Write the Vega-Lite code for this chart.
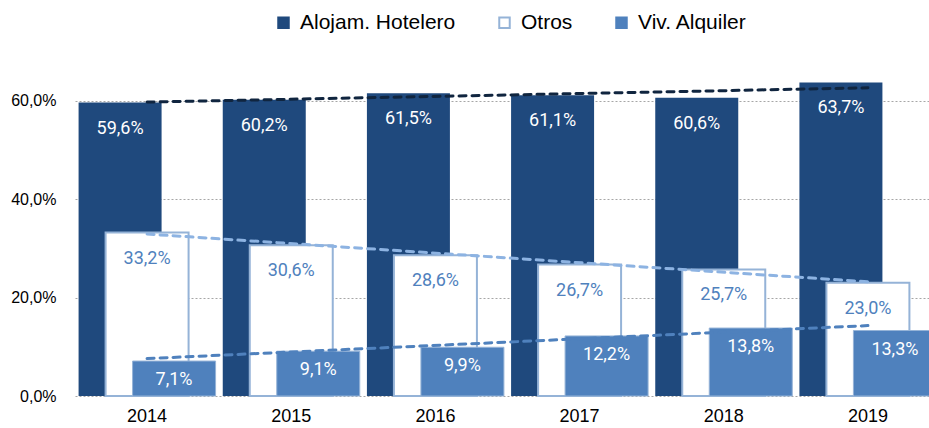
{
  "$schema": "https://vega.github.io/schema/vega-lite/v6.json",
  "width": 865,
  "height": 320,
  "autosize": {"type": "none"},
  "padding": {"left": 75, "top": 76, "right": -11, "bottom": 32},
  "config": {
    "locale": {"number": {"decimal": ",", "thousands": ".", "grouping": [3], "currency": ["", " €"]}},
    "view": {"stroke": null},
    "font": "Liberation Sans"
  },
  "datasets": {
    "bars": [
      {"year": "2014", "series": "Alojam. Hotelero", "value": 0.596},
      {"year": "2015", "series": "Alojam. Hotelero", "value": 0.602},
      {"year": "2016", "series": "Alojam. Hotelero", "value": 0.615},
      {"year": "2017", "series": "Alojam. Hotelero", "value": 0.611},
      {"year": "2018", "series": "Alojam. Hotelero", "value": 0.606},
      {"year": "2019", "series": "Alojam. Hotelero", "value": 0.637},
      {"year": "2014", "series": "Otros", "value": 0.332},
      {"year": "2015", "series": "Otros", "value": 0.306},
      {"year": "2016", "series": "Otros", "value": 0.286},
      {"year": "2017", "series": "Otros", "value": 0.267},
      {"year": "2018", "series": "Otros", "value": 0.257},
      {"year": "2019", "series": "Otros", "value": 0.230},
      {"year": "2014", "series": "Viv. Alquiler", "value": 0.071},
      {"year": "2015", "series": "Viv. Alquiler", "value": 0.091},
      {"year": "2016", "series": "Viv. Alquiler", "value": 0.099},
      {"year": "2017", "series": "Viv. Alquiler", "value": 0.122},
      {"year": "2018", "series": "Viv. Alquiler", "value": 0.138},
      {"year": "2019", "series": "Viv. Alquiler", "value": 0.133}
    ],
    "trend": [
      {"year": "2014", "series": "Alojam. Hotelero", "value": 0.597},
      {"year": "2019", "series": "Alojam. Hotelero", "value": 0.626},
      {"year": "2014", "series": "Otros", "value": 0.329},
      {"year": "2019", "series": "Otros", "value": 0.232},
      {"year": "2014", "series": "Viv. Alquiler", "value": 0.076},
      {"year": "2019", "series": "Viv. Alquiler", "value": 0.143}
    ]
  },
  "encoding": {
    "x": {
      "field": "year",
      "type": "ordinal",
      "scale": {"paddingInner": 0, "paddingOuter": 0},
      "axis": {
        "title": null,
        "labelAngle": 0,
        "domain": false,
        "ticks": false,
        "labelFont": "Liberation Sans",
        "labelFontSize": 18,
        "labelColor": "#000000",
        "labelPadding": 11
      }
    },
    "y": {
      "field": "value",
      "type": "quantitative",
      "scale": {"domain": [0, 0.65], "nice": false},
      "axis": {
        "title": null,
        "values": [0, 0.2, 0.4, 0.6],
        "format": ".1%",
        "domain": false,
        "ticks": false,
        "labelFont": "Liberation Sans",
        "labelFontSize": 16,
        "labelColor": "#000000",
        "labelPadding": 19,
        "grid": true,
        "gridColor": "#A6A6A6",
        "gridDash": [2, 2],
        "gridWidth": 1
      }
    }
  },
  "layer": [
    {
      "data": {"name": "bars"},
      "transform": [{"filter": "datum.series === 'Alojam. Hotelero'"}],
      "mark": {"type": "bar", "width": 83, "xOffset": -27, "strokeWidth": 0},
      "encoding": {
        "fill": {
          "field": "series",
          "type": "nominal",
          "scale": {"domain": ["Alojam. Hotelero", "Otros", "Viv. Alquiler"], "range": ["#1F497D", "#FFFFFF", "#4F81BD"]},
          "legend": {
            "title": null,
            "orient": "none",
            "direction": "horizontal",
            "legendX": 198,
            "legendY": -64,
            "symbolType": "square",
            "symbolSize": 110,
            "symbolStrokeWidth": 2,
            "labelFont": "Liberation Sans",
            "labelFontSize": 21,
            "labelLimit": 400,
            "labelColor": "#000000",
            "labelOffset": 6,
            "columnPadding": 38
          }
        },
        "stroke": {
          "field": "series",
          "type": "nominal",
          "scale": {"domain": ["Alojam. Hotelero", "Otros", "Viv. Alquiler"], "range": ["#1F497D", "#95B3D7", "#4F81BD"]}
        }
      }
    },
    {
      "data": {"name": "bars"},
      "transform": [{"filter": "datum.series === 'Otros'"}],
      "mark": {"type": "bar", "width": 83, "xOffset": 0, "strokeWidth": 2},
      "encoding": {
        "fill": {"field": "series", "type": "nominal"},
        "stroke": {"field": "series", "type": "nominal"}
      }
    },
    {
      "data": {"name": "bars"},
      "transform": [{"filter": "datum.series === 'Viv. Alquiler'"}],
      "mark": {"type": "bar", "width": 83, "xOffset": 27, "strokeWidth": 1},
      "encoding": {
        "fill": {"field": "series", "type": "nominal"},
        "stroke": {"value": "#95B3D7"}
      }
    },
    {
      "data": {"name": "trend"},
      "mark": {"type": "line", "strokeWidth": 3, "strokeDash": [7, 6], "strokeCap": "round"},
      "encoding": {
        "detail": {"field": "series", "type": "nominal"},
        "stroke": {
          "condition": [
            {"test": "datum.series === 'Alojam. Hotelero'", "value": "#10253F"},
            {"test": "datum.series === 'Otros'", "value": "#8DB3E2"}
          ],
          "value": "#4F81BD"
        }
      }
    },
    {
      "data": {"name": "bars"},
      "transform": [{"filter": "datum.series === 'Alojam. Hotelero'"}],
      "mark": {"type": "text", "dx": -27, "dy": 26, "baseline": "middle", "font": "Roboto", "fontSize": 18, "color": "#FFFFFF"},
      "encoding": {"text": {"field": "value", "type": "quantitative", "format": ".1%"}}
    },
    {
      "data": {"name": "bars"},
      "transform": [{"filter": "datum.series === 'Otros'"}],
      "mark": {"type": "text", "dx": 0, "dy": 26, "baseline": "middle", "font": "Roboto", "fontSize": 18, "color": "#4F81BD"},
      "encoding": {"text": {"field": "value", "type": "quantitative", "format": ".1%"}}
    },
    {
      "data": {"name": "bars"},
      "transform": [{"filter": "datum.series === 'Viv. Alquiler'"}],
      "mark": {"type": "text", "dx": 27, "dy": 19, "baseline": "middle", "font": "Roboto", "fontSize": 18, "color": "#FFFFFF"},
      "encoding": {"text": {"field": "value", "type": "quantitative", "format": ".1%"}}
    }
  ]
}
